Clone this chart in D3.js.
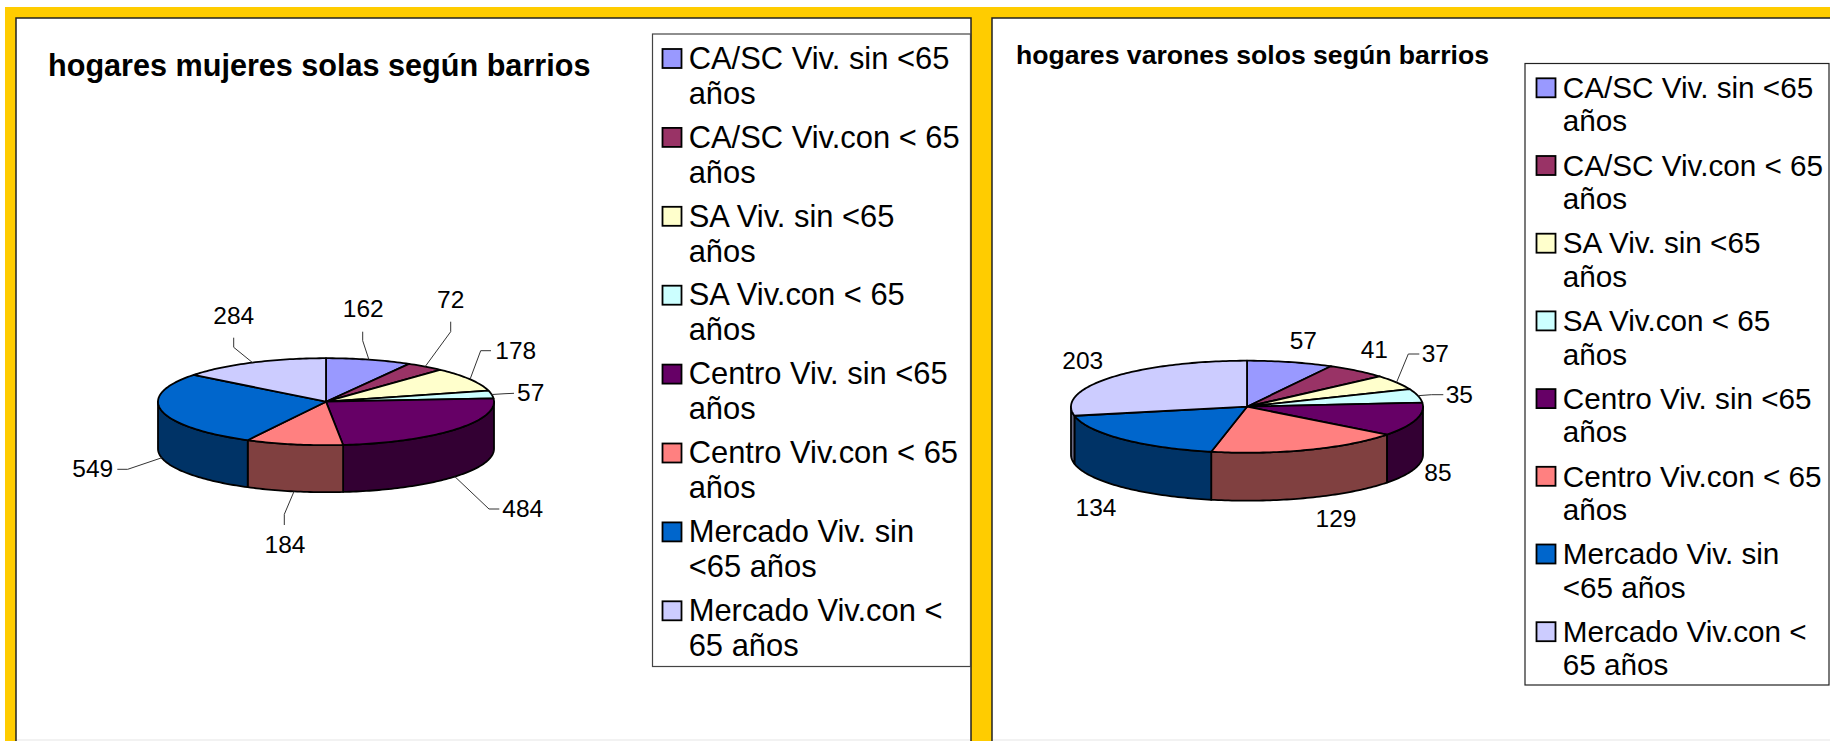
<!DOCTYPE html>
<html>
<head>
<meta charset="utf-8">
<script src="https://cdn.jsdelivr.net/npm/d3@7"></script>
<style>
  html, body { margin: 0; padding: 0; background: #fff; overflow: hidden; }
  svg { display: block; }
  text { font-family: "Liberation Sans", Arial, sans-serif; fill: #000; }
</style>
</head>
<body>
<div id="chart"></div>
<script>
const width = 1830;
const height = 741;

// data
const categories = [
    ['CA/SC Viv. sin <65', 'años'],
    ['CA/SC Viv.con < 65', 'años'],
    ['SA Viv. sin <65', 'años'],
    ['SA Viv.con < 65', 'años'],
    ['Centro Viv. sin <65', 'años'],
    ['Centro Viv.con < 65', 'años'],
    ['Mercado Viv. sin', '<65 años'],
    ['Mercado Viv.con <', '65 años']
];
const mujeres = [162, 72, 178, 57, 484, 184, 549, 284];
const varones = [57, 41, 37, 35, 85, 129, 134, 203];
const colors = ['#9999FF', '#993366', '#FFFFCC', '#CCFFFF', '#660066', '#FF8080', '#0066CC', '#CCCCFF'];

// label placement for each chart: label centre x, baseline y, and the leader
// points from the label towards the slice (the last point comes from the pie)
const mujeresLabels = [
    { x: 363.3, y: 317, leader: [[362.7, 331.7], [362.7, 340.7]] },
    { x: 450.7, y: 307.7, leader: [[450.7, 321.7], [450.7, 331.7]] },
    { x: 515.7, y: 359, leader: [[491, 350.7], [480.7, 350.7]] },
    { x: 530.7, y: 401, leader: [[514, 393.3], [505, 393.7]] },
    { x: 522.7, y: 517, leader: [[499.3, 509], [489, 509]] },
    { x: 285, y: 553, leader: [[284.3, 525], [284.3, 514.3]] },
    { x: 92.7, y: 476.7, leader: [[117.3, 469.3], [127.7, 469.3]] },
    { x: 233.7, y: 323.7, leader: [[233.7, 337.7], [233.7, 347.3]] }
];
const varonesLabels = [
    { x: 1303.3, y: 348.7, leader: null },
    { x: 1374.3, y: 357.7, leader: null },
    { x: 1435.3, y: 361.7, leader: [[1419.3, 354], [1408.3, 354]] },
    { x: 1459.3, y: 402.7, leader: [[1443.3, 394.7], [1431.7, 394.7]] },
    { x: 1438, y: 481.3, leader: null },
    { x: 1336, y: 527, leader: null },
    { x: 1096, y: 516, leader: null },
    { x: 1082.7, y: 369.3, leader: null }
];

const svg = d3.select('#chart')
    .append('svg')
    .attr('width', width)
    .attr('height', height);

// section 1
// yellow slide background and the two white panels

svg.append('rect').attr('x', 5).attr('y', 7).attr('width', width - 5).attr('height', height - 7)
    .attr('fill', '#FFCC00');

function panel(x, w) {
    svg.append('rect').attr('x', x).attr('y', 18).attr('width', w).attr('height', height - 18 + 5)
        .attr('fill', '#fff').attr('stroke', '#222').attr('stroke-width', 1.5);
    svg.append('line').attr('x1', x + 1).attr('x2', x + w - 1).attr('y1', 740).attr('y2', 740)
        .attr('stroke', '#eee').attr('stroke-width', 1.5);
}
panel(16, 955);
panel(992, 850);

// section 2
// pie and legend, the same drawing for both charts

function drawChart(cfg) {
    const g = svg.append('g');

    const x = d3.scaleLinear().domain([-1, 1]).range([cfg.cx - cfg.rx, cfg.cx + cfg.rx]);
    const y = d3.scaleLinear().domain([-1, 1]).range([cfg.cy + cfg.ry, cfg.cy - cfg.ry]);

    const arcs = d3.pie().sort(null).value(d => d)(cfg.values);

    // angle 0 is at the top of the ellipse, going clockwise
    const px = a => x(Math.sin(a));
    const py = a => y(Math.cos(a));
    const sweep = (a0, a1) => {
        const n = Math.max(2, Math.ceil((a1 - a0) / 0.02));
        return d3.range(n + 1).map(i => a0 + (a1 - a0) * i / n);
    };
    const line = d3.line();

    // sides, only the front half of the pie can be seen
    arcs.forEach((d, i) => {
        const a0 = Math.max(d.startAngle, Math.PI / 2);
        const a1 = Math.min(d.endAngle, Math.PI * 1.5);
        if (a1 <= a0) return;
        const top = sweep(a0, a1).map(a => [px(a), py(a)]);
        const bottom = top.map(p => [p[0], p[1] + cfg.depth]).reverse();
        const c = d3.rgb(colors[i]);
        g.append('path')
            .attr('d', line(top.concat(bottom)) + 'Z')
            .attr('fill', d3.rgb(c.r / 2, c.g / 2, c.b / 2))
            .attr('stroke', '#000')
            .attr('stroke-width', 1.8)
            .attr('stroke-linejoin', 'round');
    });

    // top faces
    arcs.forEach((d, i) => {
        const rim = sweep(d.startAngle, d.endAngle).map(a => [px(a), py(a)]);
        g.append('path')
            .attr('d', line([[x(0), y(0)]].concat(rim)) + 'Z')
            .attr('fill', colors[i])
            .attr('stroke', '#000')
            .attr('stroke-width', 1.8)
            .attr('stroke-linejoin', 'round');
    });

    // leaders and value labels
    arcs.forEach((d, i) => {
        const lab = cfg.labels[i];
        if (lab.leader) {
            const mid = (d.startAngle + d.endAngle) / 2;
            const front = Math.cos(mid) < 0 ? cfg.depth : 0;
            g.append('path')
                .attr('d', line(lab.leader.concat([[px(mid), py(mid) + front]])))
                .attr('fill', 'none')
                .attr('stroke', '#333')
                .attr('stroke-width', 1);
        }
        g.append('text')
            .attr('x', lab.x)
            .attr('y', lab.y)
            .attr('text-anchor', 'middle')
            .style('font-size', cfg.labelSize + 'px')
            .text(d.value);
    });

    // title
    g.append('text')
        .attr('x', cfg.titleX)
        .attr('y', cfg.titleY)
        .style('font-size', cfg.titleSize + 'px')
        .style('font-weight', 'bold')
        .text(cfg.title);

    // legend
    const lg = cfg.legend;
    g.append('rect')
        .attr('x', lg.x0)
        .attr('y', lg.y0)
        .attr('width', lg.x1 - lg.x0)
        .attr('height', lg.y1 - lg.y0)
        .attr('fill', '#fff')
        .attr('stroke', lg.stroke)
        .attr('stroke-width', 1.2);

    categories.forEach((lines, i) => {
        const base = lg.first + i * lg.pitch;
        g.append('rect')
            .attr('x', lg.swatchX)
            .attr('y', base - lg.swatch - 0.7)
            .attr('width', lg.swatch)
            .attr('height', lg.swatch)
            .attr('fill', colors[i])
            .attr('stroke', '#000')
            .attr('stroke-width', 1.8);
        lines.forEach((t, j) => {
            g.append('text')
                .attr('x', lg.textX)
                .attr('y', base + j * lg.lineHeight)
                .style('font-size', lg.size + 'px')
                .text(t);
        });
    });
}

drawChart({
    values: mujeres,
    labels: mujeresLabels,
    title: 'hogares mujeres solas según barrios',
    titleX: 48, titleY: 76, titleSize: 30.6,
    cx: 326, cy: 401.7, rx: 168, ry: 43.5, depth: 47,
    labelSize: 24.5,
    legend: {
        x0: 652.5, y0: 34, x1: 970.5, y1: 666.5, stroke: '#444',
        first: 68.7, pitch: 78.9, lineHeight: 35,
        swatchX: 662.5, swatch: 19, textX: 688.7, size: 30.9
    }
});

drawChart({
    values: varones,
    labels: varonesLabels,
    title: 'hogares varones solos según barrios',
    titleX: 1016, titleY: 64, titleSize: 26.6,
    cx: 1247, cy: 406.7, rx: 176, ry: 46, depth: 48,
    labelSize: 24.5,
    legend: {
        x0: 1525, y0: 63.5, x1: 1829, y1: 685, stroke: '#222',
        first: 98, pitch: 77.7, lineHeight: 33.4,
        swatchX: 1536.5, swatch: 19, textX: 1562.7, size: 29.7
    }
});
</script>
</body>
</html>
